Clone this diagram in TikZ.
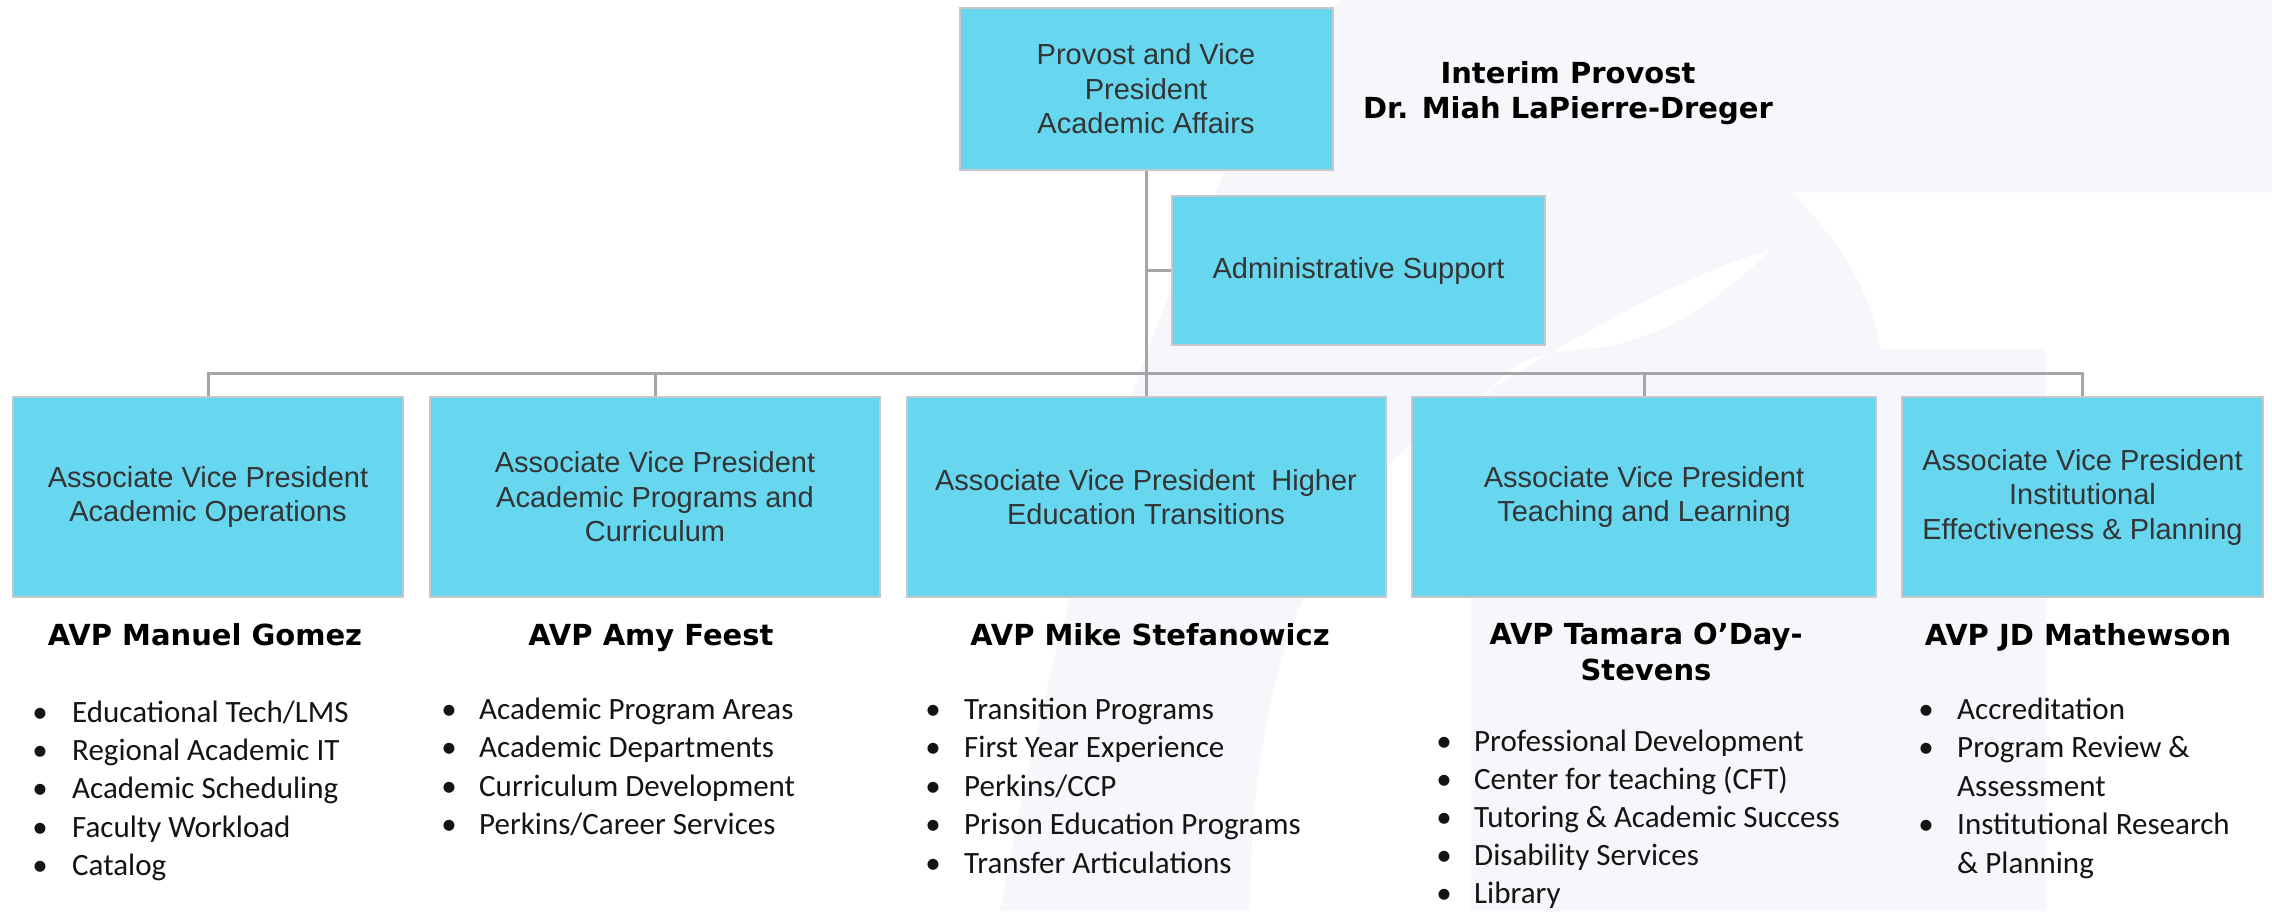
\documentclass[tikz,border=0pt]{standalone}
\usepackage{fontspec}
\setmainfont{Liberation Sans}
\newfontfamily\calfont{Carlito}
\newfontfamily\dejafont{DejaVu Sans}
\definecolor{boxfill}{RGB}{103,215,240}
\definecolor{boxline}{RGB}{196,200,204}
\definecolor{conn}{RGB}{164,166,170}
\definecolor{boxtext}{RGB}{52,52,52}
\definecolor{wm}{RGB}{246,247,250}
\definecolor{itemtext}{RGB}{20,20,20}
\pgfdeclarelayer{wmlayer}
\pgfdeclarelayer{connlayer}
\pgfsetlayers{wmlayer,connlayer,main}
\begin{document}
\begin{tikzpicture}[x=1pt,y=-1pt,
  orgbox/.style={draw=boxline, line width=2pt, fill=boxfill, inner sep=0pt, align=center,
    text=boxtext, font=\fontsize{29}{34.5}\selectfont},
  conline/.style={draw=conn, line width=3pt},
  avp/.style={font=\dejafont\bfseries\fontsize{29}{36}\selectfont, align=center, inner sep=0pt},
  item/.style={anchor=base west, inner sep=0pt, text=itemtext, font=\calfont\fontsize{31}{38.4}\selectfont},
  dot/.style={anchor=base, inner sep=0pt, text=itemtext, font=\calfont\fontsize{31}{38.4}\selectfont}
]
% canvas
\useasboundingbox (0,0) rectangle (2272,911);
\begin{pgfonlayer}{wmlayer}
\fill[white] (0,0) rectangle (2272,911);
% faint watermark
\fill[wm] (1000,911) .. controls (1080,480) and (1200,150) .. (1342,0) -- (2272,0) -- (2272,192)
  -- (1791,192) .. controls (1840,240) and (1875,300) .. (1880,349) -- (2046,349) -- (2046,911) -- cycle;
\fill[white] (1250,911) .. controls (1250,650) and (1330,480) .. (1474,400)
  .. controls (1600,320) and (1700,270) .. (1770,250)
  .. controls (1700,320) and (1640,345) .. (1584,349)
  .. controls (1490,355) and (1470,400) .. (1470,500) -- (1470,911) -- cycle;
\end{pgfonlayer}

% boxes
\node[orgbox, minimum width=373, minimum height=162] (top) at (1146,89) {Provost and Vice\\President\\Academic Affairs};
\node[orgbox, minimum width=373, minimum height=149] (admin) at (1358.5,270.5) {Administrative Support};
\node[orgbox, minimum width=390, minimum height=200] (b1) at (208,497) {Associate Vice President\\Academic Operations};
\node[orgbox, minimum width=450, minimum height=200] (b2) at (655,497) {Associate Vice President\\Academic Programs and\\Curriculum};
\node[orgbox, minimum width=479, minimum height=200] (b3) at (1146,497) {Associate Vice President\ \ Higher\\Education Transitions};
\node[orgbox, minimum width=464, minimum height=200] (b4) at (1644,497) {Associate Vice President\\Teaching and Learning};
\node[orgbox, minimum width=361, minimum height=200] (b5) at (2082.5,497) {Associate Vice President\\Institutional\\Effectiveness \& Planning};

% connectors
\begin{pgfonlayer}{connlayer}
\draw[conline] (top.south) -- (b3.north);
\draw[conline] (admin.west) -- (admin.west -| top.south);
\draw[conline] (b1.north) -- ++(0,-23) coordinate (busL) -- (busL -| b5.north) -- (b5.north);
\draw[conline] (b2.north) -- (b2.north |- busL);
\draw[conline] (b4.north) -- (b4.north |- busL);
\end{pgfonlayer}

% title
\node[font=\dejafont\bfseries\fontsize{29}{34.5}\selectfont, align=center, inner sep=0pt] (title) at (1568,93) {Interim Provost\\Dr. Miah LaPierre-Dreger};

% AVP names
\node[avp, anchor=base] (h1) at (205,645) {AVP Manuel Gomez};
\node[avp, anchor=base] (h2) at (651,645) {AVP Amy Feest};
\node[avp, anchor=base] (h3) at (1150,645) {AVP Mike Stefanowicz};
\node[avp] (h4) at (1646,652) {AVP Tamara O’Day-\\Stevens};
\node[avp, anchor=base] (h5) at (2078,645) {AVP JD Mathewson};

% column 1
\node[dot] (d11) at (40,722) {•};   \node[item] (t11) at (72,722) {Educational Tech/LMS};
\node[dot] (d12) at (40,760) {•};   \node[item] (t12) at (72,760) {Regional Academic IT};
\node[dot] (d13) at (40,798.5) {•}; \node[item] (t13) at (72,798.5) {Academic Scheduling};
\node[dot] (d14) at (40,837) {•};   \node[item] (t14) at (72,837) {Faculty Workload};
\node[dot] (d15) at (40,875.5) {•}; \node[item] (t15) at (72,875.5) {Catalog};
% column 2
\node[dot] (d21) at (449,719) {•};   \node[item] (t21) at (479,719) {Academic Program Areas};
\node[dot] (d22) at (449,757.5) {•}; \node[item] (t22) at (479,757.5) {Academic Departments};
\node[dot] (d23) at (449,796) {•};   \node[item] (t23) at (479,796) {Curriculum Development};
\node[dot] (d24) at (449,834) {•};   \node[item] (t24) at (479,834) {Perkins/Career Services};
% column 3
\node[dot] (d31) at (933,719) {•};   \node[item] (t31) at (964,719) {Transition Programs};
\node[dot] (d32) at (933,757.5) {•}; \node[item] (t32) at (964,757.5) {First Year Experience};
\node[dot] (d33) at (933,796) {•};   \node[item] (t33) at (964,796) {Perkins/CCP};
\node[dot] (d34) at (933,834.5) {•}; \node[item] (t34) at (964,834.5) {Prison Education Programs};
\node[dot] (d35) at (933,873) {•};   \node[item] (t35) at (964,873) {Transfer Articulations};
% column 4
\node[dot] (d41) at (1444,751) {•};   \node[item] (t41) at (1474,751) {Professional Development};
\node[dot] (d42) at (1444,789) {•};   \node[item] (t42) at (1474,789) {Center for teaching (CFT)};
\node[dot] (d43) at (1444,827) {•};   \node[item] (t43) at (1474,827) {Tutoring \& Academic Success};
\node[dot] (d44) at (1444,865) {•};   \node[item] (t44) at (1474,865) {Disability Services};
\node[dot] (d45) at (1444,903) {•};   \node[item] (t45) at (1474,903) {Library};
% column 5
\node[dot] (d51) at (1926,719) {•};   \node[item] (t51) at (1957,719) {Accreditation};
\node[dot] (d52) at (1926,757.5) {•}; \node[item] (t52) at (1957,757.5) {Program Review \&};
\node[item] (t53) at (1957,796) {Assessment};
\node[dot] (d54) at (1926,834.5) {•}; \node[item] (t54) at (1957,834.5) {Institutional Research};
\node[item] (t55) at (1957,873) {\& Planning};
\end{tikzpicture}
\end{document}
